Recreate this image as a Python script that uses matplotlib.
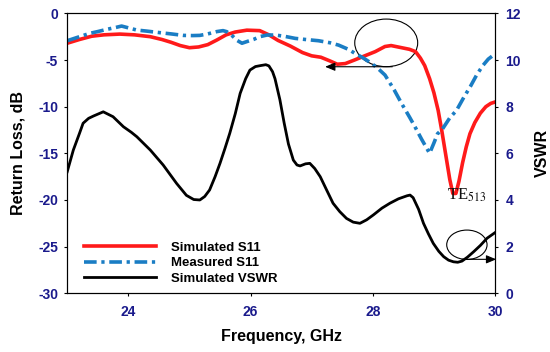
import matplotlib
matplotlib.use('Agg')
import matplotlib.pyplot as plt
from matplotlib.patches import Ellipse

plt.rcParams['font.family'] = ['Liberation Sans', 'DejaVu Sans']
plt.rcParams['mathtext.fontset'] = 'stix'
plt.rcParams['axes.unicode_minus'] = False

# ---------------- data ----------------
sim_s11_f = [23.0, 23.2, 23.4, 23.6, 23.86, 24.1, 24.36, 24.55, 24.7, 24.85, 25.0, 25.15, 25.3,
             25.45, 25.6, 25.75, 25.94, 26.15, 26.3, 26.45, 26.65, 26.85, 27.0, 27.15, 27.3,
             27.42, 27.55, 27.7, 27.85, 28.04, 28.2, 28.3, 28.45, 28.6, 28.7, 28.78, 28.85,
             28.93, 29.0, 29.07, 29.13, 29.2, 29.26, 29.31, 29.36, 29.41, 29.47, 29.53, 29.59,
             29.67, 29.76, 29.85, 29.93, 30.0]
sim_s11_db = [-3.2, -2.8, -2.45, -2.3, -2.22, -2.3, -2.5, -2.8, -3.1, -3.45, -3.68, -3.6, -3.35,
              -2.85, -2.3, -2.0, -1.8, -1.85, -2.3, -2.9, -3.5, -4.2, -4.55, -4.7, -5.1,
              -5.45, -5.38, -5.0, -4.6, -4.1, -3.55, -3.45, -3.65, -3.85, -4.1, -4.8, -5.6,
              -7.0, -8.5, -10.4, -12.6, -15.4, -17.8, -19.3, -19.3, -18.0, -16.0, -14.3, -12.9,
              -11.7, -10.7, -10.0, -9.65, -9.5]

meas_s11_f = [23.0, 23.2, 23.37, 23.5, 23.65, 23.8, 23.89, 24.0, 24.14, 24.3, 24.52, 24.7, 24.9,
              25.05, 25.17, 25.3, 25.45, 25.55, 25.61, 25.7, 25.78, 25.86, 25.95, 26.05, 26.15,
              26.27, 26.4, 26.55, 26.73, 26.9, 27.11, 27.3, 27.44, 27.6, 27.71, 27.85, 27.98,
              28.1, 28.2, 28.35, 28.47, 28.6, 28.69, 28.8, 28.93, 29.0, 29.06, 29.14, 29.26,
              29.37, 29.49, 29.6, 29.7, 29.8, 29.89, 29.95]
meas_s11_db = [-2.93, -2.5, -2.14, -1.95, -1.71, -1.5, -1.36, -1.55, -1.79, -1.9, -2.07, -2.2, -2.36,
               -2.38, -2.36, -2.2, -1.95, -1.85, -1.96, -2.4, -2.9, -3.2, -3.0, -2.79, -2.5,
               -2.32, -2.32, -2.45, -2.68, -2.8, -2.93, -3.15, -3.4, -3.85, -4.29, -4.8, -5.36,
               -6.0, -6.61, -8.2, -9.64, -11.1, -12.15, -13.5, -15.0, -13.9, -12.9, -12.4, -11.2,
               -10.4, -9.0, -7.8, -6.6, -5.6, -4.9, -4.6]

vswr_f = [23.0, 23.1, 23.2, 23.26, 23.35, 23.43, 23.59, 23.75, 23.92, 24.05, 24.14, 24.36, 24.57,
          24.79, 24.95, 25.07, 25.17, 25.25, 25.33, 25.42, 25.5, 25.58, 25.66, 25.75, 25.83,
          25.92, 25.99, 26.08, 26.16, 26.25, 26.3, 26.36, 26.4, 26.48, 26.55, 26.62, 26.7,
          26.76, 26.81, 26.9, 26.97, 27.05, 27.14, 27.25, 27.35, 27.46, 27.57, 27.68, 27.79,
          27.9, 28.01, 28.15, 28.28, 28.42, 28.56, 28.61, 28.66, 28.75, 28.83, 28.91, 28.99,
          29.08, 29.16, 29.24, 29.32, 29.39, 29.46, 29.55, 29.65, 29.76, 29.87, 30.0]
vswr = [5.21, 6.14, 6.85, 7.29, 7.5, 7.6, 7.78, 7.57, 7.14, 6.9, 6.71, 6.14, 5.5,
        4.71, 4.2, 4.02, 4.0, 4.15, 4.43, 5.0, 5.57, 6.2, 6.86, 7.7, 8.57,
        9.2, 9.57, 9.72, 9.76, 9.8, 9.75, 9.5, 9.2, 8.3, 7.3, 6.4, 5.71,
        5.5, 5.46, 5.55, 5.57, 5.35, 5.0, 4.4, 3.86, 3.5, 3.21, 3.05, 3.0,
        3.15, 3.36, 3.65, 3.86, 4.05, 4.18, 4.21, 4.1, 3.6, 3.0, 2.55, 2.14,
        1.8, 1.57, 1.42, 1.35, 1.33, 1.38, 1.55, 1.78, 2.05, 2.36, 2.6]

x_ticks = [24, 26, 28, 30]
left_ticks = [0, -5, -10, -15, -20, -25, -30]
right_ticks = [0, 2, 4, 6, 8, 10, 12]
labels = ['Simulated S11', 'Measured S11', 'Simulated VSWR']

# ---------------- figure ----------------
tick_col = '#1a1a8c'
fig = plt.figure(figsize=(5.5, 3.52), dpi=100)
ax = fig.add_axes([0.1222, 0.1668, 0.9 - 0.1222, 0.962 - 0.1668])
ax2 = ax.twinx()

l1, = ax.plot(sim_s11_f, sim_s11_db, color='#ff1a1a', lw=2.6, solid_joinstyle='round')
l2, = ax.plot(meas_s11_f, meas_s11_db, color='#1a7dc4', lw=2.6,
              linestyle=(0, (3.5, 1.3, 0.9, 1.3)))
l3, = ax2.plot(vswr_f, vswr, color='black', lw=2.0, solid_joinstyle='round')

ax.set_xlim(23, 30)
ax.set_ylim(-30, 0)
ax2.set_ylim(0, 12)
ax.set_xticks(x_ticks)
ax.set_yticks(left_ticks)
ax2.set_yticks(right_ticks)

for a in (ax, ax2):
    for s in a.spines.values():
        s.set_linewidth(0.8)
ax.tick_params(axis='x', direction='out', length=2.5, width=0.8, pad=6,
               labelsize=10, labelcolor=tick_col)
ax.tick_params(axis='y', direction='out', length=2.5, width=0.8, pad=4,
               labelsize=10, labelcolor=tick_col)
ax2.tick_params(axis='y', direction='out', length=2.5, width=0.8, pad=5,
                labelsize=10, labelcolor=tick_col)
for lab in ax.get_xticklabels() + ax.get_yticklabels() + ax2.get_yticklabels():
    lab.set_fontweight('bold')

ax.set_xlabel('Frequency, GHz', fontsize=11.5, fontweight='bold', labelpad=7)
ax.set_ylabel('Return Loss, dB', fontsize=11.5, fontweight='bold', labelpad=9)
ax2.set_ylabel('VSWR', fontsize=11.5, fontweight='bold', labelpad=10)

# annotations
ax.add_patch(Ellipse((28.22, -3.16), 1.03, 5.1, fill=False, ec='black', lw=0.8))
ax.add_patch(Ellipse((29.54, -24.8), 0.66, 3.15, fill=False, ec='black', lw=0.8))
ax.annotate('', xy=(27.22, -5.72), xytext=(28.32, -5.72), annotation_clip=False,
            arrowprops=dict(arrowstyle='-|>,head_length=0.6,head_width=0.25',
                            color='black', lw=0.8, shrinkA=0, shrinkB=0))
ax.annotate('', xy=(30.02, -26.36), xytext=(29.46, -26.36), annotation_clip=False,
            arrowprops=dict(arrowstyle='-|>,head_length=0.6,head_width=0.25',
                            color='black', lw=0.8, shrinkA=0, shrinkB=0))
ax.text(29.21, -20.0, r'TE$_{\mathrm{513}}$', family='Liberation Serif', fontsize=12,
        va='baseline', ha='left', color='#101010')

leg = ax.legend([l1, l2, l3], labels, loc='upper left', bbox_to_anchor=(0.04, 0.185),
                frameon=False, fontsize=9.5, handlelength=5.4, handletextpad=1.2,
                labelspacing=0.25, borderpad=0, borderaxespad=0)
for t in leg.get_texts():
    t.set_fontweight('bold')

fig.savefig('out.png', dpi=100)
